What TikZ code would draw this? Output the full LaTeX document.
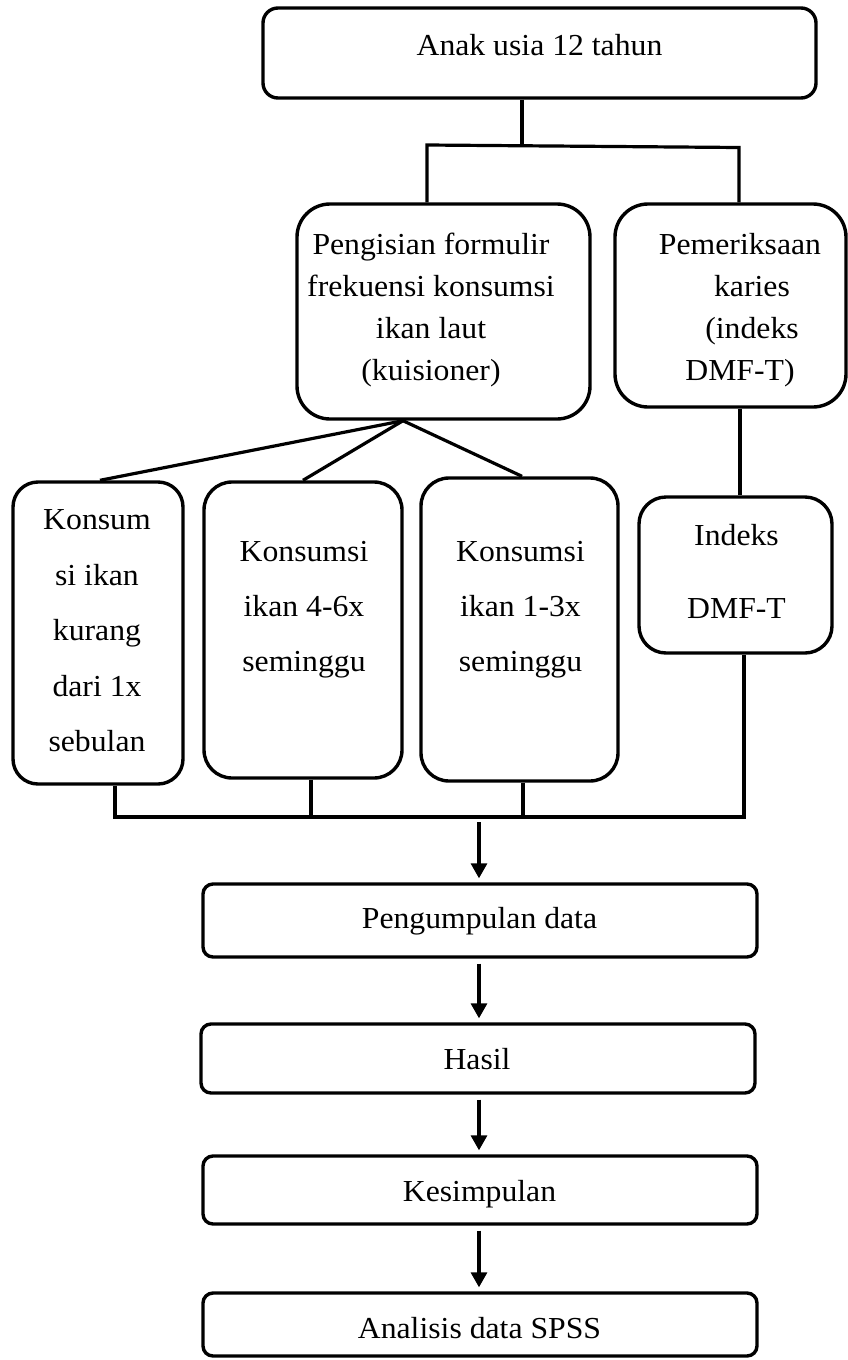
\documentclass[tikz,border=0pt]{standalone}
\usepackage{fontspec}
\setmainfont{Liberation Serif}[FakeStretch=1.04]
\usetikzlibrary{arrows.meta}
\begin{document}
\begin{tikzpicture}[x=1pt,y=-1pt,
  box/.style={draw, line width=3.4pt, rounded corners=#1, inner sep=0pt},
  box/.default=10pt,
  txt/.style={align=center, inner sep=0pt, font=\fontsize{30.5}{#1}\selectfont},
  txt/.default=42,
  conn/.style={line width=3.2pt},
  arr/.style={line width=3.2pt, -{Triangle[length=15pt,width=16pt]}, shorten <=5pt, shorten >=4pt}]
\path[fill=white, use as bounding box] (0,0) rectangle (848,1360);

% boxes
\node[box=15pt, minimum width=553pt, minimum height=90pt] (top) at (539.5,53) {};
\node[box=33pt, minimum width=293pt, minimum height=215pt] (peng) at (443.5,311.5) {};
\node[box=33pt, minimum width=231pt, minimum height=203pt] (pem) at (730.5,305.5) {};
\node[box=25pt, minimum width=170pt, minimum height=302pt] (k1) at (98,633) {};
\node[box=28pt, minimum width=198pt, minimum height=296pt] (k2) at (303,630) {};
\node[box=28pt, minimum width=197pt, minimum height=303pt] (k3) at (519.5,629.5) {};
\node[box=27pt, minimum width=193pt, minimum height=156pt] (ind) at (735.5,575) {};
\node[box, minimum width=554pt, minimum height=73pt] (pd) at (480,920.5) {};
\node[box, minimum width=554pt, minimum height=69pt] (hasil) at (478,1058.5) {};
\node[box, minimum width=554pt, minimum height=68pt] (kes) at (480,1190) {};
\node[box, minimum width=554pt, minimum height=63pt] (ana) at (480,1324.5) {};

% texts
\node[txt, anchor=base] (toptx) at (539.5,55) {Anak usia 12 tahun};
\node[txt] (pengtx) at (431,310) {Pengisian formulir\\frekuensi konsumsi\\ikan laut\\(kuisioner)};
\node[txt] (pemtx) at (740,310) {Pemeriksaan\\\hspace*{24pt}karies\\\hspace*{24pt}(indeks\\DMF-T)};
\node[txt=55.5] (k1tx) at (97,631) {Konsum\\si ikan\\kurang\\dari 1x\\sebulan};
\node[txt=55] (k2tx) at (304,610) {Konsumsi\\ikan 4-6x\\seminggu};
\node[txt=55] (k3tx) at (520.5,610) {Konsumsi\\ikan 1-3x\\seminggu};
\node[txt=73] (indtx) at (736.5,571.25) {Indeks\\DMF-T};
\node[txt, anchor=base] (pdtx) at (479.5,928) {Pengumpulan data};
\node[txt, anchor=base] (hatx) at (477,1069) {Hasil};
\node[txt, anchor=base] (kestx) at (479.5,1201) {Kesimpulan};
\node[txt, anchor=base] (anatx) at (479.5,1338) {Analisis data SPSS};

% top split
\coordinate (j0) at (522,145.5);
\coordinate (jl) at (427,145);
\coordinate (jr) at (739,147.5);
\draw[conn] (j0 |- top.south) -- (j0);
\draw[conn] (jl |- peng.north) -- (jl) -- (jr) -- (jr |- pem.north);

% fan
\coordinate (fx) at (403,0);
\coordinate (apex) at (fx |- peng.south);
\coordinate (xa) at (100,0);
\coordinate (xc) at (522,0);
\draw[conn] (apex) -- (xa |- k1.north);
\draw[conn] (apex) -- (k2.north);
\draw[conn] (apex) -- (xc |- k3.north);

% pemeriksaan to indeks
\coordinate (xp) at (740,0);
\draw[conn] (xp |- pem.south) -- (xp |- ind.north);

% bus
\coordinate (b1) at (115,817);
\coordinate (b2) at (311,817);
\coordinate (b3) at (523,817);
\coordinate (b4) at (744,817);
\draw[conn] (b1 |- k1.south) -- (b1) -- (b4) -- (b4 |- ind.south);
\draw[conn] (b2 |- k2.south) -- (b2);
\draw[conn] (b3 |- k3.south) -- (b3);

% arrows
\coordinate (bm) at (479,817);
\draw[arr] (bm) -- (bm |- pd.north);
\draw[arr] (bm |- pd.south) -- (bm |- hasil.north);
\draw[arr] (bm |- hasil.south) -- (bm |- kes.north);
\draw[arr] (bm |- kes.south) -- (bm |- ana.north);
\end{tikzpicture}
\end{document}
